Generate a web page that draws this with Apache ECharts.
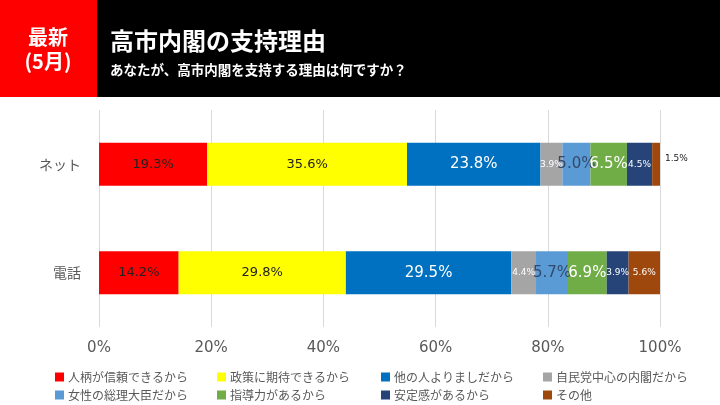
<!DOCTYPE html>
<html><head><meta charset="utf-8">
<script src="https://cdn.jsdelivr.net/npm/echarts@6/dist/echarts.min.js"></script>
<style>html,body{margin:0;padding:0;background:#fff}#c{width:720px;height:405px}</style>
</head><body><div id="c"></div>
<script>
const categories = ['ネット', '電話'];
const seriesNames = ['人柄が信頼できるから','政策に期待できるから','他の人よりましだから','自民党中心の内閣だから','女性の総理大臣だから','指導力があるから','安定感があるから','その他'];
const netValues = [19.3, 35.6, 23.8, 3.9, 5.0, 6.5, 4.5, 1.5];
const phoneValues = [14.2, 29.8, 29.5, 4.4, 5.7, 6.9, 3.9, 5.6];
const tickLabels = ['0%','20%','40%','60%','80%','100%'];

const colors = ['#FF0000','#FFFF00','#0070C0','#A5A5A5','#5B9BD5','#70AD47','#264478','#9E480E'];
const numFont = 'DejaVu Sans';
const jpFont = 'Noto Sans CJK JP';
// label styles per series: [net, phone]
const lbl = [
  [{c:'#222',s:13},{c:'#222',s:13}],
  [{c:'#222',s:13},{c:'#222',s:13}],
  [{c:'#fff',s:15},{c:'#fff',s:15}],
  [{c:'#fff',s:9},{c:'#fff',s:9}],
  [{c:'#33496b',s:15},{c:'#33496b',s:15}],
  [{c:'#fff',s:15},{c:'#fff',s:15}],
  [{c:'#fff',s:9},{c:'#fff',s:9}],
  [{c:'#222',s:9,pos:'right'},{c:'#fff',s:9}]
];
const series = seriesNames.map((name, i) => ({
  name, type: 'bar', stack: 'total', barWidth: 43,
  itemStyle: { color: colors[i] },
  data: [netValues[i], phoneValues[i]].map((v, j) => ({
    value: v,
    label: {
      show: true,
      position: lbl[i][j].pos || 'inside',
      color: lbl[i][j].c, fontSize: lbl[i][j].s, fontFamily: numFont,
      distance: 5, offset: lbl[i][j].pos ? [0, -6] : [0, 0],
      formatter: p => p.value.toFixed(1) + '%'
    }
  }))
}));

const legX = [50, 212, 376, 538];
const legends = seriesNames.map((name, i) => ({
  data: [name],
  left: legX[i % 4], top: i < 4 ? 366 : 384,
  itemWidth: 9, itemHeight: 9, itemGap: 4,
  icon: 'rect',
  textStyle: { color: '#595959', fontSize: 12, fontFamily: jpFont, padding: [0, 0, 0, -1] },
  selectedMode: false
}));
const chart = echarts.init(document.getElementById('c'));
chart.setOption({
  animation: false,
  graphic: [
    { type: 'rect', shape: { x: 0, y: 0, width: 720, height: 97 }, style: { fill: '#000' } },
    { type: 'rect', shape: { x: 0, y: 0, width: 97, height: 97 }, style: { fill: '#FF0000' } },
    { type: 'text', x: 48, y: 37, style: { text: '最新', fill: '#fff', font: 'bold 20px "Noto Sans CJK JP"', textAlign: 'center', textVerticalAlign: 'middle' } },
    { type: 'text', x: 48, y: 61, style: { text: '(5月)', fill: '#fff', font: 'bold 20px "Noto Sans CJK JP"', textAlign: 'center', textVerticalAlign: 'middle' } },
    { type: 'text', x: 110, y: 41, style: { text: '高市内閣の支持理由', fill: '#fff', font: 'bold 24px "Noto Sans CJK JP"', textVerticalAlign: 'middle' } },
    { type: 'text', x: 110, y: 70, style: { text: 'あなたが、高市内閣を支持する理由は何ですか？', fill: '#fff', font: 'bold 13.5px "Noto Sans CJK JP"', textVerticalAlign: 'middle' } }
  ],
  legend: legends,
  grid: { left: 99, right: 60, top: 110, bottom: 78 },
  xAxis: {
    type: 'value', min: 0, max: 100, interval: 20,
    axisLine: { show: false }, axisTick: { show: false },
    splitLine: { lineStyle: { color: '#d9d9d9' } },
    axisLabel: { color: '#595959', fontSize: 15, fontFamily: numFont, margin: 14,
      formatter: v => tickLabels[Math.round(v / 20)] }
  },
  yAxis: {
    type: 'category', data: categories, inverse: true,
    axisLine: { show: false }, axisTick: { show: false },
    axisLabel: { color: '#595959', fontSize: 14, fontFamily: jpFont, margin: 18 }
  },
  series
});
</script></body></html>
